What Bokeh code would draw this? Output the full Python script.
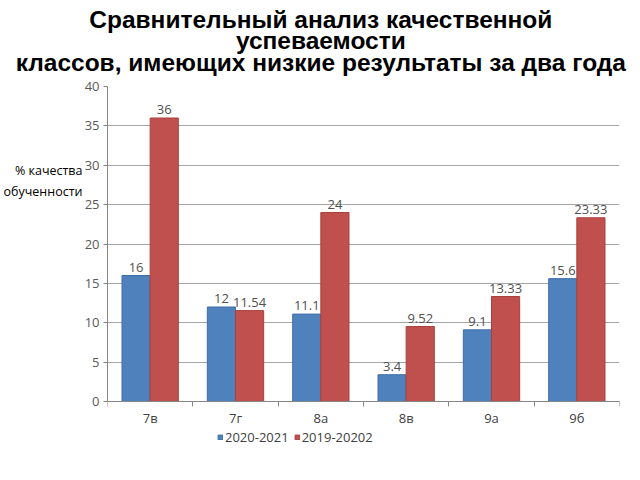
from bokeh.plotting import figure
from bokeh.models import (Range1d, FixedTicker, ColumnDataSource, Legend, LegendItem,
                          LinearAxis)
from bokeh.transform import dodge
from bokeh.embed import file_html
from bokeh.resources import INLINE
from bokeh.core.properties import value

categories = ["7в", "7г", "8а", "8в", "9а", "9б"]
series_names = ["2020-2021", "2019-20202"]
values_2020_2021 = [16, 12, 11.1, 3.4, 9.1, 15.6]
values_2019_2020 = [36, 11.54, 24, 9.52, 13.33, 23.33]
labels_2020_2021 = ["16", "12", "11.1", "3.4", "9.1", "15.6"]
labels_2019_2020 = ["36", "11.54", "24", "9.52", "13.33", "23.33"]
y_ticks = [0, 5, 10, 15, 20, 25, 30, 35, 40]
title_text = ("Сравнительный анализ качественной\n"
              "успеваемости\n"
              "классов, имеющих низкие результаты за два года")
y_label_text = "% качества\nобученности"

BLUE = "#4F81BD"
RED = "#C0504D"
FONT = "Open Sans"

# layout (pixels): plot area top, value-zero line, bottom of the drawing frame
FRAME_TOP, ZERO_PX, FRAME_BOTTOM = 86, 401, 475
Y_MAX = 40
y_min = -Y_MAX * (FRAME_BOTTOM - ZERO_PX) / (ZERO_PX - FRAME_TOP)

idx = list(range(len(categories)))
source = ColumnDataSource(dict(x=idx, a=values_2020_2021, b=values_2019_2020,
                               la=labels_2020_2021, lb=labels_2019_2020))

p = figure(width=640, height=480, title=None,
           x_range=Range1d(-0.5, len(categories) - 0.5), y_range=Range1d(y_min, Y_MAX),
           output_backend="svg", toolbar_location=None,
           min_border_left=107, min_border_right=21, min_border_top=FRAME_TOP,
           min_border_bottom=480 - FRAME_BOTTOM)
p.outline_line_color = None
xaxis = p.xaxis[0]
yaxis = p.yaxis[0]

w = 0.33
r1 = p.vbar(x=dodge("x", -w / 2), top="a", width=w, source=source,
            fill_color=BLUE, line_color="#3D6DA6", line_width=1)
r2 = p.vbar(x=dodge("x", w / 2), top="b", width=w, source=source,
            fill_color=RED, line_color="#A8403D", line_width=1)

p.text(x=dodge("x", -w / 2), y="a", text="la", source=source, text_align="center",
       text_baseline="bottom", y_offset=-4, text_font=value(FONT), text_font_size="13px",
       text_color="#505050")
p.text(x=dodge("x", w / 2), y="b", text="lb", source=source, text_align="center",
       text_baseline="bottom", y_offset=-4, text_font=value(FONT), text_font_size="13px",
       text_color="#505050")

# y axis
yaxis.ticker = FixedTicker(ticks=y_ticks)
yaxis.bounds = (0, Y_MAX)
yaxis.axis_label_standoff = 0
yaxis.major_label_text_font = FONT
yaxis.major_label_text_font_size = "13px"
yaxis.major_label_text_color = "#595959"
yaxis.major_tick_out = 4
yaxis.major_tick_in = 0
yaxis.minor_tick_out = 0
yaxis.minor_tick_in = 0
yaxis.axis_line_color = "#868686"
yaxis.major_tick_line_color = "#868686"
yaxis.major_label_standoff = 4

# x axis drawn on the zero line
xaxis.fixed_location = 0
xaxis.ticker = FixedTicker(ticks=idx, minor_ticks=[i - 0.5 for i in range(len(categories) + 1)])
xaxis.major_label_overrides = {i: c for i, c in zip(idx, categories)}
xaxis.major_label_text_font = FONT
xaxis.major_label_text_font_size = "13px"
xaxis.major_label_text_color = "#404040"
xaxis.major_tick_out = 0
xaxis.major_tick_in = 0
xaxis.minor_tick_out = 5
xaxis.minor_tick_in = 0
xaxis.minor_tick_line_color = "#868686"
xaxis.axis_line_color = "#868686"
xaxis.major_label_standoff = 2

p.xgrid.visible = False
p.ygrid.ticker = FixedTicker(ticks=y_ticks)
p.ygrid.grid_line_color = "#a6a6a6"

# y label shown as the single label of an outer axis
ylab_axis = LinearAxis(ticker=FixedTicker(ticks=[28]),
                       major_label_overrides={28: y_label_text},
                       axis_line_color=None, major_tick_line_color=None,
                       minor_tick_line_color=None, major_label_standoff=-7,
                       axis_label_standoff=0,
                       major_label_text_font=FONT, major_label_text_font_size="12.5px",
                       major_label_text_color="#000000", major_label_text_line_height=1.29)
p.add_layout(ylab_axis, "left")

# chart title shown as the single label of an axis above the plot, centred on the page
title_axis = LinearAxis(ticker=FixedTicker(ticks=[2]),
                        major_label_overrides={2: title_text},
                        axis_line_color=None, major_tick_line_color=None,
                        minor_tick_line_color=None, major_label_standoff=5,
                        axis_label_standoff=0,
                        major_label_text_font="Liberation Sans",
                        major_label_text_font_style="bold",
                        major_label_text_font_size="24.5px",
                        major_label_text_color="#000000",
                        major_label_text_line_height=0.78)
p.add_layout(title_axis, "above")

legend = Legend(items=[LegendItem(label=series_names[0], renderers=[r1]),
                       LegendItem(label=series_names[1], renderers=[r2])],
                orientation="horizontal", location=(110, 29),
                border_line_color=None, background_fill_alpha=0,
                glyph_width=6, glyph_height=6, label_standoff=2, spacing=5,
                padding=0, margin=0,
                label_text_font=FONT, label_text_font_size="13px", label_text_color="#404040")
p.add_layout(legend)

open("out.html", "w").write(file_html(p, INLINE))
